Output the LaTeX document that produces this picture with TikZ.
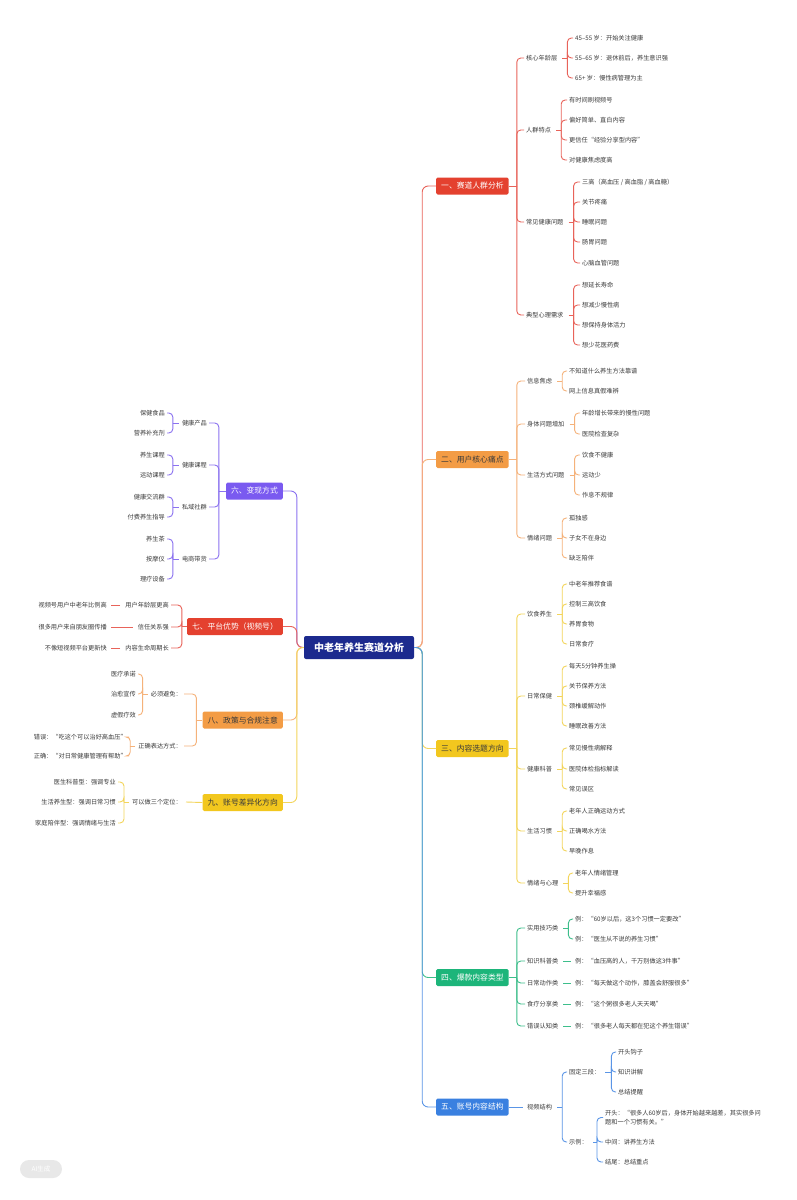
\documentclass[tikz,border=0pt]{standalone}
\usepackage{fontspec}
\setmainfont{Noto Sans CJK SC}
\usetikzlibrary{calc}
\definecolor{tg}{HTML}{3A3A3A}
\definecolor{cnavy}{HTML}{1C2A8E}
\definecolor{cred}{HTML}{E4412F}
\definecolor{credl}{HTML}{E8635A}
\definecolor{corange}{HTML}{F39C45}
\definecolor{corangel}{HTML}{F5B27A}
\definecolor{cyellow}{HTML}{F2C71E}
\definecolor{cyellowl}{HTML}{F3D55B}
\definecolor{cgreen}{HTML}{1DB57A}
\definecolor{cgreenl}{HTML}{3DBE8B}
\definecolor{cblue}{HTML}{3A80E0}
\definecolor{cbluel}{HTML}{5A95E6}
\definecolor{cpurple}{HTML}{7A5AF0}
\definecolor{cpurplel}{HTML}{8B72F0}
\tikzset{
  t/.style={font=\fontsize{6.2}{7.6}\selectfont, text=tg, inner sep=1pt},
  rt/.style={t, anchor=west},
  lt/.style={t, anchor=east},
  bx/.style={rounded corners=1.5pt, minimum height=17pt, inner xsep=5pt, inner ysep=2pt, font=\fontsize{7.8}{9}\selectfont},
  rbx/.style={bx, anchor=west},
  lbx/.style={bx, anchor=east},
  ln/.style={line width=0.9pt},
}
\newcommand\brR[5]{%
  \draw[ln,#1] ($(#2.east)+(#4,0)$) -- ($(#2.east)+(#5,0)$);
  \foreach \ch in {#3}{\draw[ln,#1,rounded corners=4pt] ($(#2.east)+(#5,0)$) |- ($(\ch.west)+(-1,0)$);}%
}
\newcommand\brL[5]{%
  \draw[ln,#1] ($(#2.west)-(#4,0)$) -- ($(#2.west)-(#5,0)$);
  \foreach \ch in {#3}{\draw[ln,#1,rounded corners=4pt] ($(#2.west)-(#5,0)$) |- ($(\ch.east)+(1,0)$);}%
}
\newcommand\lnR[3]{\draw[ln,#1] ($(#2.east)+(4,0)$) -- ($(#3.west)+(-3,0)$);}
\newcommand\lnL[3]{\draw[ln,#1] ($(#2.west)-(4,0)$) -- ($(#3.east)+(3,0)$);}
\begin{document}
\begin{tikzpicture}[x=1pt,y=-1pt]
\useasboundingbox[fill=white] (0,0) rectangle (797,1200);
% center
\node[rounded corners=2pt, fill=cnavy, text=white, minimum width=110pt, minimum height=23pt, inner xsep=10pt, font=\fontsize{10}{12}\selectfont\bfseries] (ctr) at (359,647.5) {中老年养生赛道分析};
% right branch boxes
\node[rbx, fill=cred, text=white] (b1) at (436,186) {一、赛道人群分析};
\node[rbx, fill=corange, text=tg] (b2) at (436,459.5) {二、用户核心痛点};
\node[rbx, fill=cyellow, text=tg] (b3) at (436,748.5) {三、内容选题方向};
\node[rbx, fill=cgreen, text=white] (b4) at (436,977.5) {四、爆款内容类型};
\node[rbx, fill=cblue, text=white] (b5) at (436,1107) {五、账号内容结构};
% left branch boxes
\node[lbx, fill=cpurple, text=white] (b6) at (283,491) {六、变现方式};
\node[lbx, fill=cred, text=white] (b7) at (283,626.5) {七、平台优势（视频号）};
\node[lbx, fill=corange, text=tg] (b8) at (283,720) {八、政策与合规注意};
\node[lbx, fill=cyellow, text=tg] (b9) at (283,802.5) {九、账号差异化方向};

% ---------- branch 1
\node[rt] (n11) at (525,58) {核心年龄层};
\node[rt] (n111) at (574,38) {45–55 岁：开始关注健康};
\node[rt] (n112) at (574,58) {55–65 岁：退休前后，养生意识强};
\node[rt] (n113) at (574,78) {65+ 岁：慢性病管理为主};
\node[rt] (n12) at (525,130) {人群特点};
\node[rt] (n121) at (568,100) {有时间刷视频号};
\node[rt] (n122) at (568,120) {偏好简单、直白内容};
\node[rt] (n123) at (568,140) {更信任“经验分享型内容”};
\node[rt] (n124) at (568,160) {对健康焦虑度高};
\node[rt] (n13) at (525,222) {常见健康问题};
\node[rt] (n131) at (581,182) {三高（高血压 / 高血脂 / 高血糖）};
\node[rt] (n132) at (581,202) {关节疼痛};
\node[rt] (n133) at (581,222) {睡眠问题};
\node[rt] (n134) at (581,242) {肠胃问题};
\node[rt] (n135) at (581,263) {心脑血管问题};
\node[rt] (n14) at (525,315) {典型心理需求};
\node[rt] (n141) at (581,285) {想延长寿命};
\node[rt] (n142) at (581,305) {想减少慢性病};
\node[rt] (n143) at (581,325) {想保持身体活力};
\node[rt] (n144) at (581,345) {想少花医药费};
% ---------- branch 2
\node[rt] (n21) at (526,381) {信息焦虑};
\node[rt] (n211) at (568,371) {不知道什么养生方法靠谱};
\node[rt] (n212) at (568,391) {网上信息真假难辨};
\node[rt] (n22) at (526,424) {身体问题增加};
\node[rt] (n221) at (581,413) {年龄增长带来的慢性问题};
\node[rt] (n222) at (581,434) {医院检查复杂};
\node[rt] (n23) at (526,475) {生活方式问题};
\node[rt] (n231) at (581,455) {饮食不健康};
\node[rt] (n232) at (581,475) {运动少};
\node[rt] (n233) at (581,495) {作息不规律};
\node[rt] (n24) at (526,538) {情绪问题};
\node[rt] (n241) at (568,518) {孤独感};
\node[rt] (n242) at (568,538) {子女不在身边};
\node[rt] (n243) at (568,558) {缺乏陪伴};
% ---------- branch 3
\node[rt] (n31) at (526,614) {饮食养生};
\node[rt] (n311) at (568,584) {中老年推荐食谱};
\node[rt] (n312) at (568,604) {控制三高饮食};
\node[rt] (n313) at (568,624) {养胃食物};
\node[rt] (n314) at (568,644) {日常食疗};
\node[rt] (n32) at (526,696) {日常保健};
\node[rt] (n321) at (568,666) {每天5分钟养生操};
\node[rt] (n322) at (568,686) {关节保养方法};
\node[rt] (n323) at (568,706) {颈椎缓解动作};
\node[rt] (n324) at (568,726) {睡眠改善方法};
\node[rt] (n33) at (526,769) {健康科普};
\node[rt] (n331) at (568,748) {常见慢性病解释};
\node[rt] (n332) at (568,769) {医院体检指标解读};
\node[rt] (n333) at (568,789) {常见误区};
\node[rt] (n34) at (526,831) {生活习惯};
\node[rt] (n341) at (568,811) {老年人正确运动方式};
\node[rt] (n342) at (568,831) {正确喝水方法};
\node[rt] (n343) at (568,851) {早晚作息};
\node[rt] (n35) at (526,883) {情绪与心理};
\node[rt] (n351) at (574,873) {老年人情绪管理};
\node[rt] (n352) at (574,893) {提升幸福感};
% ---------- branch 4
\node[rt] (n41) at (526,928) {实用技巧类};
\node[rt] (n411) at (574,919) {例：“60岁以后，这3个习惯一定要改”};
\node[rt] (n412) at (574,939) {例：“医生从不说的养生习惯”};
\node[rt] (n42) at (526,961) {知识科普类};
\node[rt] (n421) at (574,961) {例：“血压高的人，千万别做这3件事”};
\node[rt] (n43) at (526,983) {日常动作类};
\node[rt] (n431) at (574,983) {例：“每天做这个动作，膝盖会舒服很多”};
\node[rt] (n44) at (526,1004) {食疗分享类};
\node[rt] (n441) at (574,1004) {例：“这个粥很多老人天天喝”};
\node[rt] (n45) at (526,1026) {错误认知类};
\node[rt] (n451) at (574,1026) {例：“很多老人每天都在犯这个养生错误”};
% ---------- branch 5
\node[rt] (n51) at (526,1107) {视频结构};
\node[rt] (n511) at (568,1072) {固定三段：};
\node[rt] (n5111) at (617,1052) {开头钩子};
\node[rt] (n5112) at (617,1072) {知识讲解};
\node[rt] (n5113) at (617,1092) {总结提醒};
\node[rt] (n512) at (568,1142) {示例：};
\node[rt, align=left, font=\fontsize{6.2}{8.6}\selectfont] (n5121) at (604,1117.5) {开头：“很多人60岁后，身体开始越来越差，其实很多问\\题和一个习惯有关。”};
\node[rt] (n5122) at (604,1142) {中间：讲养生方法};
\node[rt] (n5123) at (604,1162) {结尾：总结重点};
% ---------- branch 6
\node[lt] (n61) at (208,423) {健康产品};
\node[lt] (n611) at (166,413) {保健食品};
\node[lt] (n612) at (166,433) {营养补充剂};
\node[lt] (n62) at (208,465) {健康课程};
\node[lt] (n621) at (166,455) {养生课程};
\node[lt] (n622) at (166,475) {运动课程};
\node[lt] (n63) at (208,507) {私域社群};
\node[lt] (n631) at (166,497) {健康交流群};
\node[lt] (n632) at (166,517) {付费养生指导};
\node[lt] (n64) at (208,559) {电商带货};
\node[lt] (n641) at (166,539) {养生茶};
\node[lt] (n642) at (166,559) {按摩仪};
\node[lt] (n643) at (166,579) {理疗设备};
% ---------- branch 7
\node[lt] (n71) at (170,605) {用户年龄层更高};
\node[lt] (n711) at (108,605) {视频号用户中老年比例高};
\node[lt] (n72) at (170,627) {信任关系强};
\node[lt] (n721) at (108,627) {很多用户来自朋友圈传播};
\node[lt] (n73) at (170,648) {内容生命周期长};
\node[lt] (n731) at (108,648) {不像短视频平台更新快};
% ---------- branch 8
\node[lt] (n81) at (183,694) {必须避免：};
\node[lt] (n811) at (137,674) {医疗承诺};
\node[lt] (n812) at (137,694) {治愈宣传};
\node[lt] (n813) at (137,715) {虚假疗效};
\node[lt] (n82) at (183,746) {正确表达方式：};
\node[lt] (n821) at (128,737) {错误：“吃这个可以治好高血压”};
\node[lt] (n822) at (128,756) {正确：“对日常健康管理有帮助”};
% ---------- branch 9
\node[lt] (n91) at (183,802) {可以做三个定位：};
\node[lt] (n911) at (117,782) {医生科普型：强调专业};
\node[lt] (n912) at (117,802) {生活养生型：强调日常习惯};
\node[lt] (n913) at (117,823) {家庭陪伴型：强调情绪与生活};

% ---------- trunk connectors
\draw[ln, credl, rounded corners=6pt] (ctr.east) -- ($(ctr.east)+(8,0)$) |- (b1.west);
\draw[ln, corangel, rounded corners=6pt] (ctr.east) -- ($(ctr.east)+(8,0)$) |- (b2.west);
\draw[ln, cyellowl, rounded corners=6pt] (ctr.east) -- ($(ctr.east)+(8,0)$) |- (b3.west);
\draw[ln, cgreenl, rounded corners=6pt] (ctr.east) -- ($(ctr.east)+(8,0)$) |- (b4.west);
\draw[ln, cbluel, rounded corners=6pt] (ctr.east) -- ($(ctr.east)+(8,0)$) |- (b5.west);
\draw[ln, cpurplel, rounded corners=6pt] (ctr.west) -- ($(ctr.west)-(7,0)$) |- (b6.east);
\draw[ln, credl, rounded corners=6pt] (ctr.west) -- ($(ctr.west)-(7,0)$) |- (b7.east);
\draw[ln, corangel, rounded corners=6pt] (ctr.west) -- ($(ctr.west)-(7,0)$) |- (b8.east);
\draw[ln, cyellowl, rounded corners=6pt] (ctr.west) -- ($(ctr.west)-(7,0)$) |- (b9.east);

% ---------- branch 1 connectors
\brR{credl}{b1}{n11,n12,n13,n14}{0}{8}
\brR{credl}{n11}{n111,n112,n113}{4}{9}
\brR{credl}{n12}{n121,n122,n123,n124}{4}{9}
\brR{credl}{n13}{n131,n132,n133,n134,n135}{4}{9}
\brR{credl}{n14}{n141,n142,n143,n144}{4}{9}
% branch 2
\brR{corangel}{b2}{n21,n22,n23,n24}{0}{8}
\brR{corangel}{n21}{n211,n212}{4}{9}
\brR{corangel}{n22}{n221,n222}{4}{9}
\brR{corangel}{n23}{n231,n232,n233}{4}{9}
\brR{corangel}{n24}{n241,n242,n243}{4}{9}
% branch 3
\brR{cyellowl}{b3}{n31,n32,n33,n34,n35}{0}{8}
\brR{cyellowl}{n31}{n311,n312,n313,n314}{4}{9}
\brR{cyellowl}{n32}{n321,n322,n323,n324}{4}{9}
\brR{cyellowl}{n33}{n331,n332,n333}{4}{9}
\brR{cyellowl}{n34}{n341,n342,n343}{4}{9}
\brR{cyellowl}{n35}{n351,n352}{4}{9}
% branch 4
\brR{cgreenl}{b4}{n41,n42,n43,n44,n45}{0}{8}
\brR{cgreenl}{n41}{n411,n412}{4}{9}
\lnR{cgreenl}{n42}{n421}
\lnR{cgreenl}{n43}{n431}
\lnR{cgreenl}{n44}{n441}
\lnR{cgreenl}{n45}{n451}
% branch 5
\draw[ln, cbluel] (b5.east) -- ($(n51.west)+(-3,0)$);
\brR{cbluel}{n51}{n511,n512}{4}{9}
\brR{cbluel}{n511}{n5111,n5112,n5113}{4}{10}
\brR{cbluel}{n512}{n5121,n5122,n5123}{4}{8}
% branch 6
\brL{cpurplel}{b6}{n61,n62,n63,n64}{0}{7}
\brL{cpurplel}{n61}{n611,n612}{2}{8}
\brL{cpurplel}{n62}{n621,n622}{2}{8}
\brL{cpurplel}{n63}{n631,n632}{2}{8}
\brL{cpurplel}{n64}{n641,n642,n643}{2}{8}
% branch 7
\brL{credl}{b7}{n71,n72,n73}{0}{5}
\lnL{credl}{n71}{n711}
\lnL{credl}{n72}{n721}
\lnL{credl}{n73}{n731}
% branch 8
\brL{corangel}{b8}{n81,n82}{0}{6}
\brL{corangel}{n81}{n811,n812,n813}{2}{7}
\brL{corangel}{n82}{n821,n822}{2}{7}
% branch 9
\draw[ln, cyellowl] (b9.west) -- ($(n91.east)+(3,0)$);
\brL{cyellowl}{n91}{n911,n912,n913}{2}{7}

% watermark
\node[rounded corners=9pt, fill=black!9, text=white, minimum width=42pt, minimum height=18pt, inner sep=1pt, font=\fontsize{6.5}{8}\selectfont] (wm) at (41,1169) {AI生成};
\end{tikzpicture}
\end{document}
